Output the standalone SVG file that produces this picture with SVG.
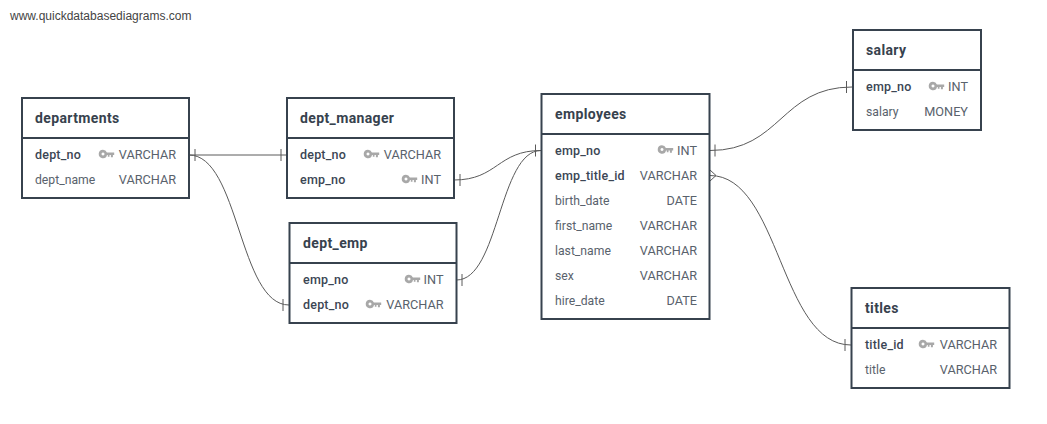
<svg xmlns="http://www.w3.org/2000/svg" width="1047" height="424" viewBox="0 0 1047 424">
<style>
text{font-family:Roboto,"Liberation Sans",sans-serif;fill:#3b4754;font-size:12.5px}
.h{font-size:14px;font-weight:700;fill:#37424e;letter-spacing:.37px}
.b{font-weight:500;fill:#3b4654;letter-spacing:.2px}
.t{text-anchor:end;fill:#59626c;font-size:12.7px}
.n{fill:#59626c;font-size:12.2px}
.box{fill:#fff;stroke:#37424e;stroke-width:2}
.c{fill:none;stroke:#5a5a5a;stroke-width:1}
.k{fill:#a8a8a8}
</style>
<defs>
<g id="key"><path class="k" fill-rule="evenodd" d="M4 -4.200a4.200 4.200 0 0 1 3.900 2.600H15.200V1h-1.300v2.200h-2V1H10.500V2.800H8.800V1H8A4.200 4.200 0 1 1 4 -4.200ZM4 -1.500a1.500 1.500 0 1 0 .01 0Z"/></g>
</defs>
<rect width="1047" height="424" fill="#fff"/>
<text x="10" y="20" style="font-family:'Liberation Sans',Arial,sans-serif;font-size:12px;fill:#444">www.quickdatabasediagrams.com</text>
<g id="connectors">
<path class="c" d="M189 155H287"/>
<path class="c" d="M189 155C239 155 239 305 289 305"/>
<path class="c" d="M454 180C497.500 180 497.500 150.500 541 150.500"/>
<path class="c" d="M456.500 280C499 280 499 150.500 541 150.500"/>
<path class="c" d="M710 150.500C781 150.500 781 87 852 87"/>
<path class="c" d="M710 175.500C780 175.500 780 345 851 345"/>
<path class="c" d="M195 149V161M281 149V161M283 299V311"/>
<path class="c" d="M460 174V186M535.500 144.500V156.500M462 274V286M715 144.500V156.500M846.500 81V93M845 339V351M710 170L716 175.500L710 181"/>
</g>
<g id="departments">
<rect class="box" x="22" y="98" width="167" height="100"/><path class="box" d="M22 138H189"/>
<text class="h" x="35" y="123">departments</text>
<text class="b" x="35" y="159">dept_no</text><use href="#key" x="99" y="154"/><text class="t" x="176" y="159">VARCHAR</text>
<text class="n" x="35" y="184">dept_name</text><text class="t" x="176" y="184">VARCHAR</text>
</g>
<g id="dept_manager">
<rect class="box" x="287" y="98" width="167" height="100"/><path class="box" d="M287 138H454"/>
<text class="h" x="300" y="123">dept_manager</text>
<text class="b" x="300" y="159">dept_no</text><use href="#key" x="364" y="154"/><text class="t" x="441" y="159">VARCHAR</text>
<text class="b" x="300" y="184">emp_no</text><use href="#key" x="402" y="179"/><text class="t" x="441" y="184">INT</text>
</g>
<g id="dept_emp">
<rect class="box" x="289.500" y="223" width="167" height="100"/><path class="box" d="M289.500 263H456.500"/>
<text class="h" x="303" y="248">dept_emp</text>
<text class="b" x="303" y="284">emp_no</text><use href="#key" x="405" y="279"/><text class="t" x="443.500" y="284">INT</text>
<text class="b" x="303" y="309">dept_no</text><use href="#key" x="366" y="304"/><text class="t" x="443.500" y="309">VARCHAR</text>
</g>
<g id="employees">
<rect class="box" x="541.500" y="94" width="168" height="225"/><path class="box" d="M541.500 134H709.500"/>
<text class="h" x="555" y="119">employees</text>
<text class="b" x="555" y="155">emp_no</text><use href="#key" x="658" y="149.500"/><text class="t" x="697" y="155">INT</text>
<text class="b" x="555" y="180">emp_title_id</text><text class="t" x="697" y="180">VARCHAR</text>
<text class="n" x="555" y="205">birth_date</text><text class="t" x="697" y="205">DATE</text>
<text class="n" x="555" y="230">first_name</text><text class="t" x="697" y="230">VARCHAR</text>
<text class="n" x="555" y="255">last_name</text><text class="t" x="697" y="255">VARCHAR</text>
<text class="n" x="555" y="280">sex</text><text class="t" x="697" y="280">VARCHAR</text>
<text class="n" x="555" y="305">hire_date</text><text class="t" x="697" y="305">DATE</text>
</g>
<g id="salary">
<rect class="box" x="853" y="30" width="128" height="100"/><path class="box" d="M853 70H981"/>
<text class="h" x="866" y="55">salary</text>
<text class="b" x="866" y="91">emp_no</text><use href="#key" x="929" y="86"/><text class="t" x="968" y="91">INT</text>
<text class="n" x="866" y="116">salary</text><text class="t" x="968" y="116">MONEY</text>
</g>
<g id="titles">
<rect class="box" x="851.500" y="288" width="158" height="100"/><path class="box" d="M851.500 328H1009.500"/>
<text class="h" x="865" y="313">titles</text>
<text class="b" x="865" y="349">title_id</text><use href="#key" x="919" y="344"/><text class="t" x="997" y="349">VARCHAR</text>
<text class="n" x="865" y="374">title</text><text class="t" x="997" y="374">VARCHAR</text>
</g>
</svg>
